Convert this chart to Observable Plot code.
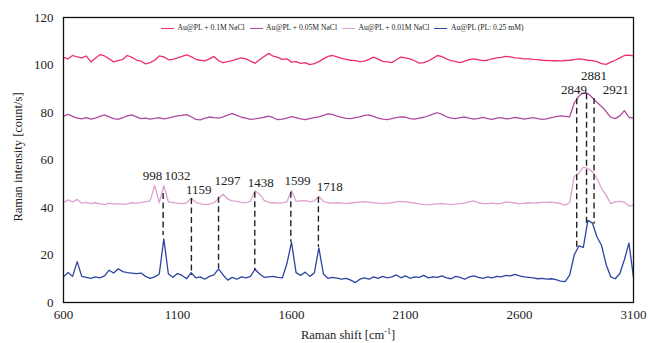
<!DOCTYPE html>
<html><head><meta charset="utf-8">
<script src="https://cdn.jsdelivr.net/npm/d3@7"></script>
<script src="https://cdn.jsdelivr.net/npm/@observablehq/plot@0.6"></script>
<style>
body{margin:0;background:#fff;font-family:"Liberation Serif",serif;}
#wrap{position:relative;width:648px;height:343px;overflow:hidden;font-family:"Liberation Serif",serif;}
.legend{position:absolute;left:161px;top:23px;display:flex;align-items:center;font-family:"Liberation Serif",serif;font-size:7.6px;line-height:10px;color:#222;white-space:nowrap;}
.legend .item{display:flex;align-items:center;margin-right:5px;}
.legend .sw{display:inline-block;width:13px;height:0;border-top:1.5px solid;margin-right:3.5px;}
.ytitle{position:absolute;left:18px;top:157px;transform:translate(-50%,-50%) rotate(-90deg);font-family:"Liberation Serif",serif;font-size:12.5px;color:#222;white-space:nowrap;}
.xtitle{position:absolute;left:348px;top:335px;transform:translate(-50%,-50%);font-family:"Liberation Serif",serif;font-size:12.5px;color:#222;white-space:nowrap;}
.xtitle sup{font-size:8px;vertical-align:5px;line-height:0;}
</style></head><body><div id="wrap"></div><script>
// Raman shift grid (cm^-1)
const shift = [
 600,620,640,660,680,700,720,740,760,780,
 800,820,840,860,880,900,920,940,960,980,
 1000,1020,1040,1060,1080,1100,1120,1140,1160,1180,
 1200,1220,1240,1260,1280,1300,1320,1340,1360,1380,
 1400,1420,1440,1460,1480,1500,1520,1540,1560,1580,
 1600,1620,1640,1660,1680,1700,1720,1740,1760,1780,
 1800,1820,1840,1860,1880,1900,1920,1940,1960,1980,
 2000,2020,2040,2060,2080,2100,2120,2140,2160,2180,
 2200,2220,2240,2260,2280,2300,2320,2340,2360,2380,
 2400,2420,2440,2460,2480,2500,2520,2540,2560,2580,
 2600,2620,2640,2660,2680,2700,2720,2740,2760,2780,
 2800,2820,2840,2860,2880,2900,2920,2940,2960,2980,
 3000,3020,3040,3060,3080,3100];

const seriesNames = ["Au@PL + 0.1M NaCl","Au@PL + 0.05M NaCl","Au@PL + 0.01M NaCl","Au@PL (PL: 0.25 mM)"];
const seriesColors = ["#ee2f68","#b04a9e","#dfa2d0","#2e45a0"];

const nacl01 = [
 103.2,102.6,104,103.4,103,103.8,101.3,102.8,104.4,103.8,
 102.6,101.3,101.8,102.4,104,103.2,102.1,101.6,100.5,101,
 102,103.8,103.4,102.2,102.4,103,103.6,104.3,103.5,102.4,
 102,101.7,102.6,103.6,101.8,101,101.4,101.8,102.5,103,
 102.6,101.6,100.7,102.2,103.6,104.9,103.7,103.2,102.4,102.6,
 101.2,101.4,100.7,101,100.2,100.6,101.4,102.6,103.6,104,
 103.4,102.8,102.4,102,101.8,101.4,101.6,102.4,103.3,102.5,
 101.5,101.3,101,102.2,103.3,103,102.6,101.8,100.8,101,
 101.7,102.8,104,103.5,102.6,101.8,101.4,101,101.6,102.3,
 102.6,102.2,101.8,102,102.6,103,103.2,103.6,103.4,103,
 102.9,102.6,102.6,102.4,102.3,102,101.9,101.8,101.8,101.7,
 101.9,102,102.3,102.6,102.4,102,101.8,101.4,100.6,100.3,
 101.2,102,103,104,104.2,103.8];

const nacl005 = [
 78.5,79.2,78.4,77.6,77.3,77.8,77.2,77.6,78.4,79,
 78.2,77.4,77.1,77.8,78.6,79,78.2,77.4,77.6,77.2,
 77.5,77.8,77.3,77.6,78.2,78.6,78.8,79.1,78.2,77.1,
 76.9,77.6,78.1,77.8,77.6,78.2,78.9,79.5,78.8,78,
 77.6,77.1,77.3,77.6,78,78.5,77.8,77,77.2,77.6,
 78.3,77.8,77.3,77,77.4,77.8,78.2,78.8,79.4,79.2,
 78.5,77.9,77.5,77.4,77.8,78.2,78.8,79,78.4,77.6,
 77.2,77,77.4,77.8,78.2,78,77.4,77.2,77.6,78,
 78.6,79.3,79.9,79.2,78.2,77.6,77.4,77.8,78.1,77.6,
 77.2,77.5,77.9,77.4,77.1,77.6,77.8,77.3,77.5,77.9,
 77.6,77.2,77.5,77.8,77.4,77.1,77.3,77.8,78.3,78.6,
 78.4,78.2,84,86.8,88.3,88,86.2,84.2,82.5,80.4,
 78,77.4,78.6,80.8,78,77.6];

const nacl001 = [
 42,43.2,42.4,43.4,41.8,42.2,41.6,42,41.5,41.2,
 41.8,41.4,41.6,41.3,41.5,42,41.7,42.2,42.4,42.8,
 49.3,42,49.2,42.4,42.1,41.8,41.6,42,43.9,42.2,
 41.6,41.2,41.4,42,43.8,45.6,43.6,42.8,42.6,42.2,
 42,42.6,47,45.6,43,42.2,42,41.8,42,42.4,
 47.2,42.6,42.8,43,42.4,42.8,44.6,42.6,42,41.8,
 42,41.8,41.6,41.9,42.1,42.3,42.5,42.3,42,41.8,
 41.6,41.8,42,42.4,42.6,42.4,42.1,41.8,41.5,41.2,
 41.1,41.3,41.5,41.6,41.4,41.2,41.4,41.6,41.9,42.4,
 42.8,42,41.6,41.6,41.8,41.5,41.7,42.4,42.2,41.9,
 41.5,41.8,42,41.8,42,42.2,42.2,42.3,42,41.6,
 41,42,53,54.4,57,56.4,55,52.2,48,45.2,
 41.6,42.4,42.6,42.2,40.6,41];

const plOnly = [
 10.8,12.6,11,17.2,11,10.6,10.2,10.8,10.4,11.2,
 13.6,12.4,14.2,13,12.6,12.4,12.2,12.4,11,10.2,
 10.8,12,26.8,12,10.6,12.2,11.4,10,12.6,10.4,
 10.8,9.8,11,11.6,14.2,11.6,9.4,10.6,9.8,10.8,
 10.4,11,14,12,10.6,10.8,11,10.6,10.4,16.4,
 25.4,12.6,11.4,12.8,11,12.4,23,12,10.2,10.6,
 10.3,9.8,10.2,9.4,8.4,9.8,10.4,9.8,10.8,10.2,
 11,10.4,10.8,11.6,10.4,11.2,10.2,10.8,10.6,11.4,
 10.4,10.8,10.6,11.2,10.4,10,11,10.6,9.8,10.8,
 11.2,10.6,10.2,10.8,10.4,11,10.8,11.4,11.2,11.8,
 11.2,10.8,10.6,10.4,10,10.2,9.8,10,9.6,9,
 8.8,11.5,20,23.8,23.2,34.6,33.4,27.6,24,16,
 10.8,10,12.2,18,25,10.6];

const xTicks = [600,1100,1600,2100,2600,3100];
const yTicks = [0,20,40,60,80,100,120];

// peak annotations
const peakLabels = ["998","1032","1159","1297","1438","1599","1718","2849","2881","2921"];
const peakLabelX = [990,1100,1193,1319,1465,1626,1768,2839,2927,3022];
const peakLabelY = [53.5,53.5,47.6,51.1,50.5,51.4,48.8,89.6,95.6,89.6];

// dashed leader lines
const leadX = [1037,1161,1280,1439,1597,1718,2851,2894,2927];
const leadTop = [45.9,43.8,44.3,46.4,46.4,44.3,85.8,87.9,85.9];
const leadBottom = [28.2,11.4,14.3,13.5,25.4,23.3,21.9,33,33];

const allSeries = [nacl01, nacl005, nacl001, plOnly];
const rows = [];
allSeries.forEach((vals, k) => vals.forEach((v, i) => rows.push({shift: shift[i], value: v, series: seriesNames[k]})));
const labels = peakLabels.map((t, i) => ({t, x: peakLabelX[i], y: peakLabelY[i]}));
const leads = leadX.map((x, i) => ({x, top: leadTop[i], bottom: leadBottom[i]}));

const chart = Plot.plot({
  width: 648, height: 343,
  marginLeft: 63, marginRight: 15, marginTop: 17, marginBottom: 41,
  style: {fontFamily: "Liberation Serif", fontSize: "13px", color: "#222", background: "#fff"},
  x: {domain: [600, 3100], ticks: xTicks, tickSize: 0, tickPadding: 7, label: null, tickFormat: d => String(d)},
  y: {domain: [0, 120], ticks: yTicks, tickSize: 0, tickPadding: 10, label: null},
  color: {domain: seriesNames, range: seriesColors},
  marks: [
    Plot.line(rows, {x: "shift", y: "value", z: "series", stroke: "series", strokeWidth: 1.3}),
    Plot.ruleX(leads, {x: "x", y1: "top", y2: "bottom", stroke: "#222", strokeWidth: 1.4, strokeDasharray: "6,3.5"}),
    Plot.text(labels, {x: "x", y: "y", text: "t", fill: "#222", fontSize: 13}),
    Plot.frame({stroke: "#111", strokeWidth: 1.3})
  ]
});
const wrap = document.getElementById("wrap");
wrap.appendChild(chart);

const leg = document.createElement("div");
leg.className = "legend";
seriesNames.forEach((n, i) => {
  const it = document.createElement("span"); it.className = "item";
  const sw = document.createElement("span"); sw.className = "sw"; sw.style.borderTopColor = seriesColors[i];
  const tx = document.createElement("span"); tx.textContent = n;
  it.appendChild(sw); it.appendChild(tx); leg.appendChild(it);
});
wrap.appendChild(leg);

const yt = document.createElement("div"); yt.className = "ytitle"; yt.textContent = "Raman intensity [count/s]";
wrap.appendChild(yt);
const xt = document.createElement("div"); xt.className = "xtitle"; xt.innerHTML = "Raman shift [cm<sup>-1</sup>]";
wrap.appendChild(xt);
</script></body></html>
